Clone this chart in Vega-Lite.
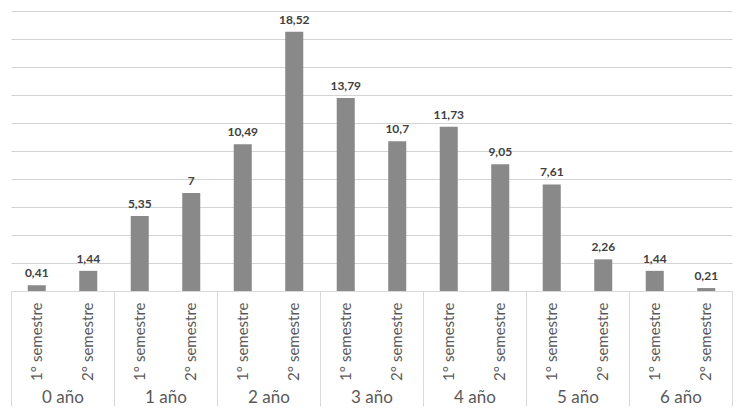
{
  "$schema": "https://vega.github.io/schema/vega-lite/v6.json",
  "width": 721,
  "height": 280,
  "autosize": {"type": "none"},
  "padding": {"left": 11, "top": 11, "right": 12, "bottom": 122},
  "background": "white",
  "config": {
    "view": {"stroke": null},
    "font": "Lato",
    "locale": {"number": {"decimal": ",", "thousands": ".", "grouping": [3], "currency": ["", " €"]}}
  },
  "data": {
    "values": [
      {"clave": "0 año|1° semestre", "anio": "0 año", "valor": 0.41},
      {"clave": "0 año|2° semestre", "anio": "0 año", "valor": 1.44},
      {"clave": "1 año|1° semestre", "anio": "1 año", "valor": 5.35},
      {"clave": "1 año|2° semestre", "anio": "1 año", "valor": 7},
      {"clave": "2 año|1° semestre", "anio": "2 año", "valor": 10.49},
      {"clave": "2 año|2° semestre", "anio": "2 año", "valor": 18.52},
      {"clave": "3 año|1° semestre", "anio": "3 año", "valor": 13.79},
      {"clave": "3 año|2° semestre", "anio": "3 año", "valor": 10.7},
      {"clave": "4 año|1° semestre", "anio": "4 año", "valor": 11.73},
      {"clave": "4 año|2° semestre", "anio": "4 año", "valor": 9.05},
      {"clave": "5 año|1° semestre", "anio": "5 año", "valor": 7.61},
      {"clave": "5 año|2° semestre", "anio": "5 año", "valor": 2.26},
      {"clave": "6 año|1° semestre", "anio": "6 año", "valor": 1.44},
      {"clave": "6 año|2° semestre", "anio": "6 año", "valor": 0.21}
    ]
  },
  "layer": [
    {
      "encoding": {
        "x": {
          "field": "clave",
          "type": "nominal",
          "sort": null,
          "scale": {"type": "band", "paddingInner": 0.65, "paddingOuter": 0.325},
          "axis": {
            "orient": "bottom",
            "title": null,
            "labelExpr": "split(datum.label, '|')[1]",
            "labelAngle": 270,
            "labelAlign": "right",
            "labelBaseline": "middle",
            "labelPadding": 11,
            "labelFontSize": 15,
            "labelColor": "#595959",
            "ticks": false,
            "tickSize": 0,
            "domainColor": "#d9d9d9",
            "domainWidth": 1
          }
        },
        "y": {
          "field": "valor",
          "type": "quantitative",
          "scale": {"domain": [0, 20], "nice": false},
          "axis": {
            "title": null,
            "labels": false,
            "ticks": false,
            "domain": false,
            "tickCount": 10,
            "values": [2, 4, 6, 8, 10, 12, 14, 16, 18, 20],
            "gridColor": "#d4d4d4",
            "gridWidth": 1
          }
        }
      },
      "layer": [
        {"mark": {"type": "bar", "color": "#898989"}},
        {
          "mark": {"type": "text", "baseline": "bottom", "dy": -5, "fontWeight": "bold", "fontSize": 12, "color": "#404040"},
          "encoding": {"text": {"field": "valor", "type": "quantitative", "format": ".2~f"}}
        }
      ]
    },
    {
      "mark": {"type": "point", "opacity": 0},
      "encoding": {
        "x": {
          "field": "anio",
          "type": "nominal",
          "sort": null,
          "scale": {"type": "band", "paddingInner": 0, "paddingOuter": 0},
          "axis": {
            "orient": "bottom",
            "title": null,
            "domain": false,
            "labelAngle": 0,
            "tickBand": "extent",
            "tickSize": 115,
            "tickColor": "#d9d9d9",
            "labelBaseline": "middle",
            "labelPadding": -9,
            "labelFontSize": 17,
            "labelColor": "#595959"
          }
        },
        "y": {"field": "valor", "type": "quantitative"}
      }
    }
  ],
  "resolve": {"scale": {"x": "independent"}, "axis": {"x": "independent"}}
}
